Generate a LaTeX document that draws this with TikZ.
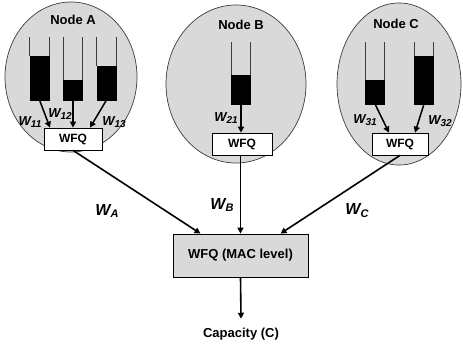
\documentclass[tikz,border=0pt]{standalone}
\usepackage{fontspec}
\setmainfont{Liberation Sans}
\usetikzlibrary{arrows.meta,shapes.geometric}
\definecolor{bubblegray}{RGB}{217,217,217}
\definecolor{edgegray}{RGB}{60,60,60}
\newcommand{\wlab}[2]{\bfseries\itshape #1\raisebox{-0.35ex}{\fontsize{10}{10}\selectfont #2}}
\newcommand{\Wlab}[2]{\bfseries\itshape #1\raisebox{-0.35ex}{\fontsize{11}{12}\selectfont #2}}
\begin{document}
\begin{tikzpicture}[x=1pt,y=-1pt,
  bubble/.style={ellipse,draw=edgegray,line width=0.7pt,fill=bubblegray,inner sep=0pt},
  title/.style={font=\fontsize{13}{15}\selectfont\bfseries,inner sep=0pt},
  qbar/.style={fill=black,draw=black,line width=0.4pt,minimum width=19pt,inner sep=0pt,anchor=south},
  wall/.style={draw=edgegray,line width=0.8pt},
  wfq/.style={draw=black,line width=0.7pt,fill=white,minimum width=58pt,minimum height=22pt,inner sep=0pt,font=\fontsize{12}{14}\selectfont\bfseries},
  arr/.style={line width=1.6pt,-{Triangle[length=6pt,width=6pt]}},
  arrs/.style={line width=1.5pt,-{Triangle[length=6pt,width=6pt]}},
  wsmall/.style={font=\fontsize{13}{14}\selectfont,inner sep=0pt},
  wbig/.style={font=\fontsize{16}{18}\selectfont,inner sep=0pt},
  macbox/.style={draw=black,line width=0.8pt,fill=bubblegray,minimum width=135pt,minimum height=43pt,inner sep=0pt,font=\fontsize{13}{15}\selectfont\bfseries}]
\useasboundingbox (0,0) rectangle (463,349);

% bubbles
\node[bubble,minimum width=132pt,minimum height=150pt] (ellA) at (71,77) {};
\node[bubble,minimum width=140pt,minimum height=158pt] (ellB) at (236,84) {};
\node[bubble,minimum width=124pt,minimum height=162pt] (ellC) at (399,84) {};

\node[title] (tA) at (73,20) {Node A};
\node[title] (tB) at (241,25) {Node B};
\node[title] (tC) at (396,24) {Node C};

\coordinate (topA) at (0,37);
\coordinate (topB) at (0,42);

% queues node A
\node[qbar,minimum height=44pt] (qA1) at (39.5,100) {};
\node[qbar,minimum height=20pt] (qA2) at (73,100) {};
\node[qbar,minimum height=34pt] (qA3) at (106.5,100) {};
% queue node B
\node[qbar,minimum height=29pt] (qB1) at (241,104) {};
% queues node C
\node[qbar,minimum height=24pt] (qC1) at (375,104) {};
\node[qbar,minimum height=48pt] (qC2) at (424,104) {};

\foreach \q in {qA1,qA2,qA3}{
  \draw[wall] (\q.north west) -- (\q.north west |- topA);
  \draw[wall] (\q.north east) -- (\q.north east |- topA);
}
\foreach \q in {qB1,qC1,qC2}{
  \draw[wall] (\q.north west) -- (\q.north west |- topB);
  \draw[wall] (\q.north east) -- (\q.north east |- topB);
}

% WFQ boxes
\node[wfq] (wA) at (73,139) {WFQ};
\node[wfq,minimum width=60pt] (wB) at (242,144) {WFQ};
\node[wfq,minimum width=56pt] (wC) at (400,144) {WFQ};

\draw[arrs] (qA1.south) -- ([xshift=-23pt]wA.north);
\draw[arrs] (qA2.south) -- (wA.north);
\draw[arrs] (qA3.south) -- ([xshift=17pt]wA.north);
\draw[arrs] (qB1.south) -- (wB.north -| qB1.south);
\draw[arrs] (qC1.south) -- ([xshift=-11pt]wC.north);
\draw[arrs] (qC2.south) -- ([xshift=15pt]wC.north);

\node[wsmall] (l11) at (30,122) {\wlab{W}{11}};
\node[wsmall] (l12) at (60,114) {\wlab{W}{12}};
\node[wsmall] (l13) at (114,122) {\wlab{W}{13}};
\node[wsmall] (l21) at (226,118) {\wlab{W}{21}};
\node[wsmall] (l31) at (365,120) {\wlab{W}{31}};
\node[wsmall] (l32) at (440,121) {\wlab{W}{32}};

% MAC level
\node[macbox] (mac) at (240.5,255.5) {WFQ (MAC level)};
\draw[arr] (wA.south) -- ([xshift=-40pt]mac.north);
\draw[arr] (wB.south -| mac.north) -- (mac.north);
\draw[arr] (wC.south) -- ([xshift=40pt]mac.north);

\node[wbig] (lA) at (107,211) {\Wlab{W}{A}};
\node[wbig] (lB) at (222,205) {\Wlab{W}{B}};
\node[wbig] (lC) at (357,211) {\Wlab{W}{C}};

\node[title] (cap) at (241,334) {Capacity (C)};
\draw[arr] (mac.south) -- ([yshift=9pt]cap.north);
\end{tikzpicture}
\end{document}
